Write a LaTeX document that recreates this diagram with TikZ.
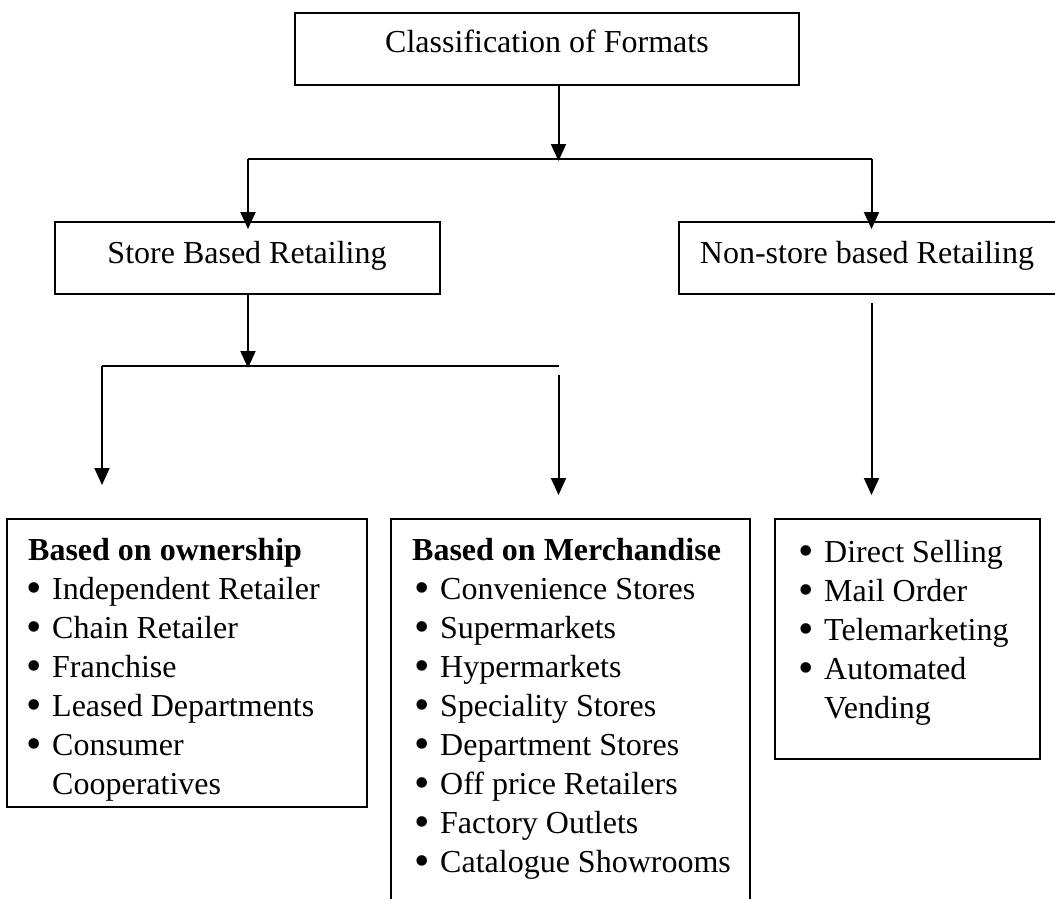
\documentclass[tikz,border=0pt]{standalone}
\usepackage{fontspec}
\setmainfont{Liberation Serif}
\usetikzlibrary{arrows.meta}
\newcommand{\bul}{\makebox[24pt][l]{\hspace{-1.5pt}\raisebox{-3.5pt}{\fontsize{44}{39}\selectfont •}}}
\newcommand{\hang}{\hspace*{24pt}}
\begin{document}
\begin{tikzpicture}[x=1pt,y=-1pt,
  every node/.style={font=\fontsize{32}{39}\selectfont},
  frame/.style={draw,line width=2pt,inner sep=0pt},
  link/.style={line width=2pt},
  arr/.style={line width=2pt,-{Triangle[length=17pt,width=15pt]}},
  listtext/.style={anchor=base west,inner sep=0pt}
]
\useasboundingbox (0,0) rectangle (1055,899);
\clip (0,0) rectangle (1055,899);

% boxes
\node[frame,minimum width=504pt,minimum height=72pt,text height=22pt,text depth=14pt]
  (top) at (547,49) {Classification of Formats};
\node[frame,minimum width=385pt,minimum height=72pt,text height=22pt,text depth=12pt]
  (store) at (247,258) {Store Based Retailing};
\node[frame,minimum width=385pt,minimum height=72pt,text height=22pt,text depth=12pt]
  (nonstore) at (871.5,258) {\hspace*{-9pt}Non-store based Retailing};

\node[frame,minimum width=360pt,minimum height=288pt] (own) at (187,663) {};
\node[frame,minimum width=359pt,minimum height=400pt] (merch) at (570.5,719) {};
\node[frame,minimum width=265pt,minimum height=240pt] (nonlist) at (907.5,639) {};

% list texts
\node[listtext] (owntext) at (28,560) {\begin{tabular}[t]{@{}l@{}}
\textbf{Based on ownership}\\
\bul Independent Retailer\\
\bul Chain Retailer\\
\bul Franchise\\
\bul Leased Departments\\
\bul Consumer\\
\hang Cooperatives
\end{tabular}};
\node[listtext] (merchtext) at (412,560) {\begin{tabular}[t]{@{}l@{}}
\textbf{Based on Merchandise}\\
\hspace*{4pt}\bul Convenience Stores\\
\hspace*{4pt}\bul Supermarkets\\
\hspace*{4pt}\bul Hypermarkets\\
\hspace*{4pt}\bul Speciality Stores\\
\hspace*{4pt}\bul Department Stores\\
\hspace*{4pt}\bul Off price Retailers\\
\hspace*{4pt}\bul Factory Outlets\\
\hspace*{4pt}\bul Catalogue Showrooms
\end{tabular}};
\node[listtext] (nontext) at (800,562) {\begin{tabular}[t]{@{}l@{}}
\bul Direct Selling\\
\bul Mail Order\\
\bul Telemarketing\\
\bul Automated\\
\hang Vending
\end{tabular}};

% connector coordinates
\coordinate (j1) at (558.5,159);
\coordinate (hl) at (248,159);
\coordinate (hr) at (871.5,159);
\coordinate (j2) at (248,366);
\coordinate (bl) at (102,366);
\coordinate (br) at (558.5,366);
\coordinate (ownend) at (102,485);
\coordinate (merchstart) at (558.5,375);
\coordinate (merchend) at (558.5,495);
\coordinate (nonstart) at (871.5,303);
\coordinate (nonend) at (871.5,495);

% connectors
\draw[arr] (top.south -| j1) -- ([yshift=-2pt]j1);
\draw[link] (hl) -- (hr);
\draw[arr,shorten >=-8pt] (hl) -- (store.north -| hl);
\draw[arr,shorten >=-8pt] (hr) -- (nonstore.north);
\draw[arr] (store.south -| j2) -- ([yshift=-2pt]j2);
\draw[link] (bl) -- (br);
\draw[arr] (bl) -- (ownend);
\draw[arr] (merchstart) -- (merchend);
\draw[arr] (nonstart) -- (nonend);
\end{tikzpicture}
\end{document}
